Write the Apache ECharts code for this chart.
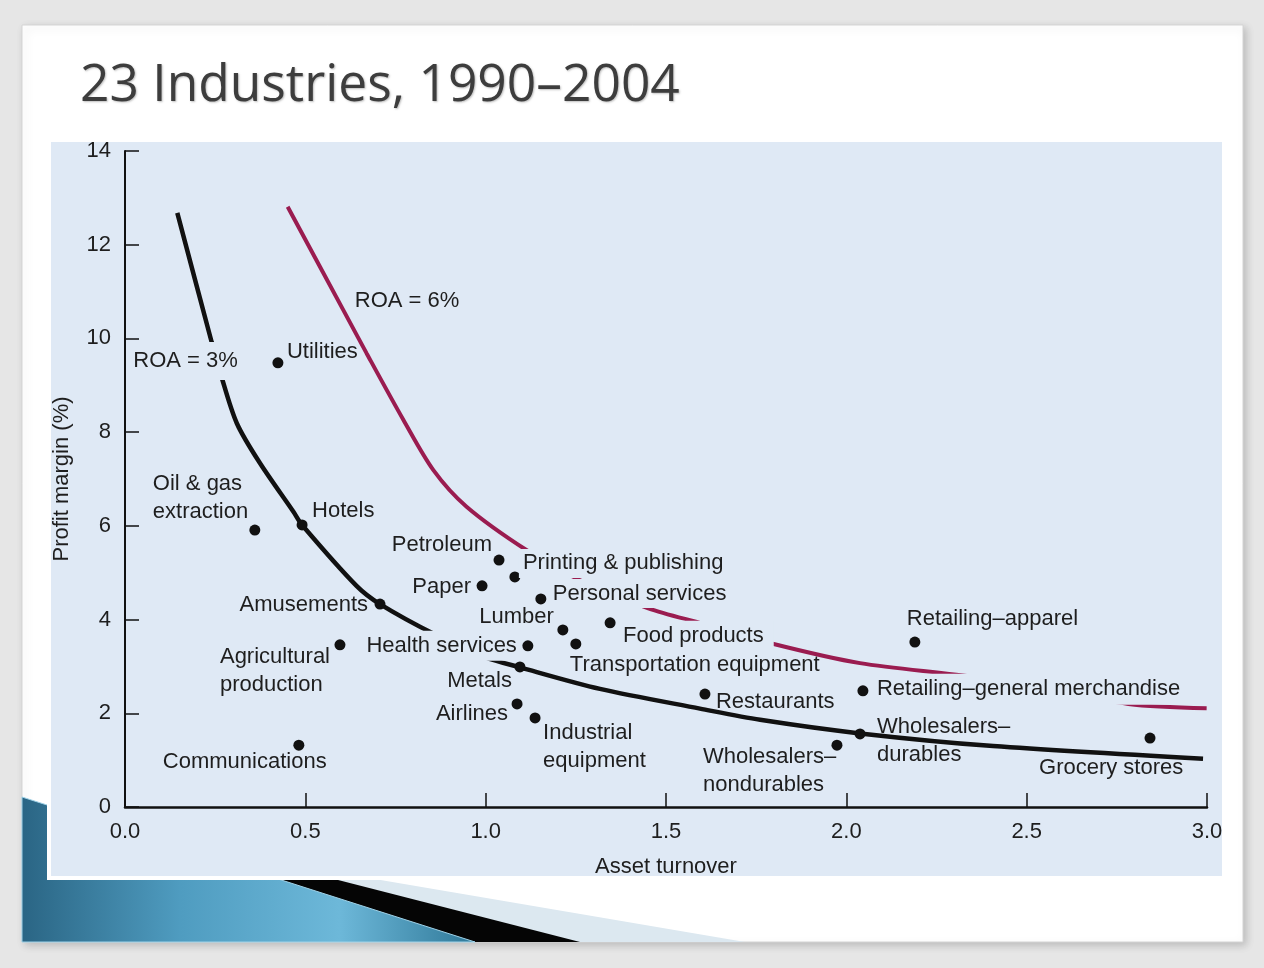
<!DOCTYPE html>
<html>
<head>
<meta charset="utf-8">
<style>
  html, body { margin: 0; padding: 0; background: #e6e6e6; }
  #chart { width: 1264px; height: 968px; }
</style>
<script src="https://cdn.jsdelivr.net/npm/echarts@6.0.0/dist/echarts.min.js"></script>
</head>
<body>
<div id="chart"></div>
<script>
// ---------------- data ----------------
const industryNames = [
  'Utilities', 'Oil & gas\nextraction', 'Hotels', 'Amusements', 'Agricultural\nproduction',
  'Communications', 'Petroleum', 'Printing & publishing', 'Paper', 'Personal services',
  'Lumber', 'Food products', 'Transportation equipment', 'Health services', 'Metals',
  'Airlines', 'Industrial\nequipment', 'Restaurants', 'Retailing–apparel',
  'Retailing–general merchandise', 'Wholesalers–\ndurables', 'Wholesalers–\nnondurables', 'Grocery stores'
];
const assetTurnover = [
  0.424, 0.360, 0.491, 0.707, 0.596,
  0.482, 1.037, 1.081, 0.990, 1.153,
  1.214, 1.345, 1.250, 1.117, 1.095,
  1.087, 1.137, 1.608, 2.190,
  2.046, 2.038, 1.974, 2.842
];
const profitMargin = [
  9.48, 5.91, 6.02, 4.33, 3.46,
  1.32, 5.27, 4.91, 4.72, 4.44,
  3.78, 3.93, 3.48, 3.44, 2.99,
  2.20, 1.90, 2.41, 3.52,
  2.48, 1.56, 1.32, 1.47
];

// ROA = 3% curve
const roa3Turnover = [0.145, 0.240, 0.266, 0.310, 0.374, 0.467, 0.491, 0.642, 0.707, 0.860, 0.998, 1.095, 1.317, 1.594, 1.761, 2.038, 2.407, 2.989];
const roa3Margin   = [12.68, 9.93, 9.22, 8.19, 7.34, 6.30, 6.02, 4.72, 4.33, 3.68, 3.20, 2.98, 2.52, 2.10, 1.86, 1.57, 1.30, 1.03];

// ROA = 6% curve
const roa6Turnover = [0.451, 0.605, 0.670, 0.772, 0.855, 0.947, 1.114, 1.262, 1.451, 1.603, 1.793, 2.038, 2.366, 2.782, 2.999];
const roa6Margin   = [12.81, 10.61, 9.68, 8.26, 7.19, 6.41, 5.48, 4.84, 4.24, 3.91, 3.49, 3.07, 2.76, 2.20, 2.11];

// curve captions and where they sit (data coordinates)
const curveCaptions = ['ROA = 3%', 'ROA = 6%'];
const captionTurnover = [0.168, 0.782];
const captionMargin = [9.52, 10.80];

const xTickLabels = ['0.0', '0.5', '1.0', '1.5', '2.0', '2.5', '3.0'];
const yTickLabels = ['0', '2', '4', '6', '8', '10', '12', '14'];

const titleText = '23 Industries, 1990–2004';
const xName = 'Asset turnover';
const yName = 'Profit margin (%)';

// ---------------- label placement (style, not data) ----------------
// [align, dx, dy, knockout padding [top, right, bottom, left] (optional)]
const PLOT_BG = '#dfe9f5';
const SYM = 11;
const labelPlace = {
  'Utilities': ['left', 9, -11],
  'Oil & gas\nextraction': ['left', -102, -32],
  'Hotels': ['left', 10, -14],
  'Amusements': ['right', -12, 1],
  'Agricultural\nproduction': ['left', -120, 26],
  'Communications': ['left', -136, 17],
  'Petroleum': ['right', -7, -15],
  'Printing & publishing': ['left', 8, -14, [3, 4, 2, 4]],
  'Paper': ['right', -11, 1],
  'Personal services': ['left', 12, -5, [2, 4, 3, 4]],
  'Lumber': ['right', -9, -13],
  'Food products': ['left', 13, 13, [4, 10, 3, 4]],
  'Transportation equipment': ['left', -6, 21],
  'Health services': ['right', -11, 0, [3, 4, 3, 4]],
  'Metals': ['right', -8, 14],
  'Airlines': ['right', -9, 10],
  'Industrial\nequipment': ['left', 8, 29],
  'Restaurants': ['left', 11, 8],
  'Retailing–apparel': ['left', -8, -23],
  'Retailing–general merchandise': ['left', 14, -1, [3, 4, 4, 4]],
  'Wholesalers–\ndurables': ['left', 17, 7],
  'Wholesalers–\nnondurables': ['left', -134, 26],
  'Grocery stores': ['left', -111, 30]
};

const FONT = '"Liberation Sans", Arial, Helvetica, sans-serif';
const TXT = '#1e1e1e';

const scatterData = industryNames.map((n, i) => {
  const p = labelPlace[n];
  let dx = p[1], dy = p[2];
  const pad = p[3];
  if (pad) {
    dx += (p[0] === 'left' ? -pad[3] : pad[1]);
    dy += (pad[0] - pad[2]) / 2;
  }
  const lab = {
    show: true, position: [SYM / 2 + dx, SYM / 2 + dy], align: p[0], verticalAlign: 'middle',
    formatter: n
  };
  if (pad) {
    lab.backgroundColor = PLOT_BG;
    lab.padding = pad;
    lab.lineHeight = 24;
  }
  return { name: n, value: [assetTurnover[i], profitMargin[i]], label: lab };
});

const captionData = curveCaptions.map((c, i) => ({
  name: c, value: [captionTurnover[i], captionMargin[i]],
  label: i === 0
    ? { show: true, position: 'inside', formatter: c, backgroundColor: PLOT_BG, padding: [8, 4] }
    : { show: true, position: 'inside', formatter: c }
}));

const chart = echarts.init(document.getElementById('chart'), null, { renderer: 'canvas' });

const option = {
  backgroundColor: '#e6e6e6',
  animation: false,
  textStyle: { fontFamily: FONT },
  graphic: [
    { type: 'rect', z: -20, shape: { x: 22, y: 25, width: 1221, height: 917 },
      style: { fill: '#ffffff', stroke: '#d4d4d4', lineWidth: 1, shadowBlur: 8, shadowColor: 'rgba(0,0,0,0.18)', shadowOffsetX: 3, shadowOffsetY: 3 } },
    { type: 'polygon', z: -19, shape: { points: [[22, 819], [745, 942], [22, 942]] },
      style: { fill: '#dce8f0' } },
    { type: 'polygon', z: -18, shape: { points: [[22, 799], [580, 942], [22, 942]] },
      style: { fill: '#050505' } },
    { type: 'polygon', z: -17, shape: { points: [[22, 797], [475, 942], [22, 942]] },
      style: {
        fill: new echarts.graphic.LinearGradient(0, 0, 1, 0, [
          { offset: 0, color: '#2a6584' },
          { offset: 0.35, color: '#4f9cc0' },
          { offset: 0.7, color: '#6db8d9' },
          { offset: 1, color: '#2f7898' }
        ]),
        stroke: '#9fd2e8', lineWidth: 1
      } },
    { type: 'rect', z: -16, shape: { x: 47, y: 140, width: 1176, height: 740 }, style: { fill: '#ffffff' } },
    { type: 'rect', z: -15, shape: { x: 51, y: 142, width: 1171, height: 734 }, style: { fill: PLOT_BG } },
    { type: 'text', z: 10, left: 80, top: 60,
      style: { text: titleText, fill: '#3d3d3d', font: '51.5px "Open Sans", "Noto Sans", sans-serif',
        textShadowColor: 'rgba(0,0,0,0.25)', textShadowBlur: 2, textShadowOffsetX: 1, textShadowOffsetY: 1 } }
  ],
  grid: { left: 125, right: 57, top: 151, bottom: 161, containLabel: false },
  xAxis: {
    type: 'value', min: 0, max: 3, interval: 0.5,
    name: xName, nameLocation: 'middle', nameGap: 49,
    nameTextStyle: { fontSize: 22, color: TXT, fontFamily: FONT },
    axisLine: { show: true, lineStyle: { color: '#111', width: 2.5 } },
    axisTick: { show: true, inside: true, length: 14, lineStyle: { color: '#111', width: 1.5 } },
    axisLabel: { margin: 14, fontSize: 22, color: TXT, fontFamily: FONT,
      formatter: (v) => xTickLabels[Math.round(v / 0.5)] },
    splitLine: { show: false }
  },
  yAxis: {
    type: 'value', min: 0, max: 14, interval: 2,
    name: yName, nameLocation: 'middle', nameGap: 52, nameRotate: 90,
    nameTextStyle: { fontSize: 22, color: TXT, fontFamily: FONT },
    axisLine: { show: true, lineStyle: { color: '#111', width: 2 } },
    axisTick: { show: true, inside: true, length: 14, lineStyle: { color: '#111', width: 1.5 } },
    axisLabel: { margin: 14, fontSize: 22, color: TXT, fontFamily: FONT,
      formatter: (v) => yTickLabels[Math.round(v / 2)] },
    splitLine: { show: false }
  },
  series: [
    {
      type: 'line', name: 'ROA = 3%', z: 2, smooth: 0.3, showSymbol: false, symbol: 'none',
      data: roa3Turnover.map((x, i) => [x, roa3Margin[i]]),
      lineStyle: { color: '#111111', width: 4.5 }
    },
    {
      type: 'line', name: 'ROA = 6%', z: 2, smooth: 0.3, showSymbol: false, symbol: 'none',
      data: roa6Turnover.map((x, i) => [x, roa6Margin[i]]),
      lineStyle: { color: '#9a1c50', width: 4 }
    },
    {
      type: 'scatter', name: 'captions', z: 4, symbolSize: 0, silent: true,
      itemStyle: { opacity: 1 },
      data: captionData,
      label: { fontSize: 22, color: TXT, fontFamily: FONT }
    },
    {
      type: 'scatter', name: 'Industries', z: 5, symbolSize: SYM, silent: true,
      itemStyle: { color: '#111111', opacity: 1 },
      data: scatterData,
      label: { fontSize: 22, color: TXT, fontFamily: FONT, lineHeight: 28 }
    }
  ]
};
chart.setOption(option);
</script>
</body>
</html>
